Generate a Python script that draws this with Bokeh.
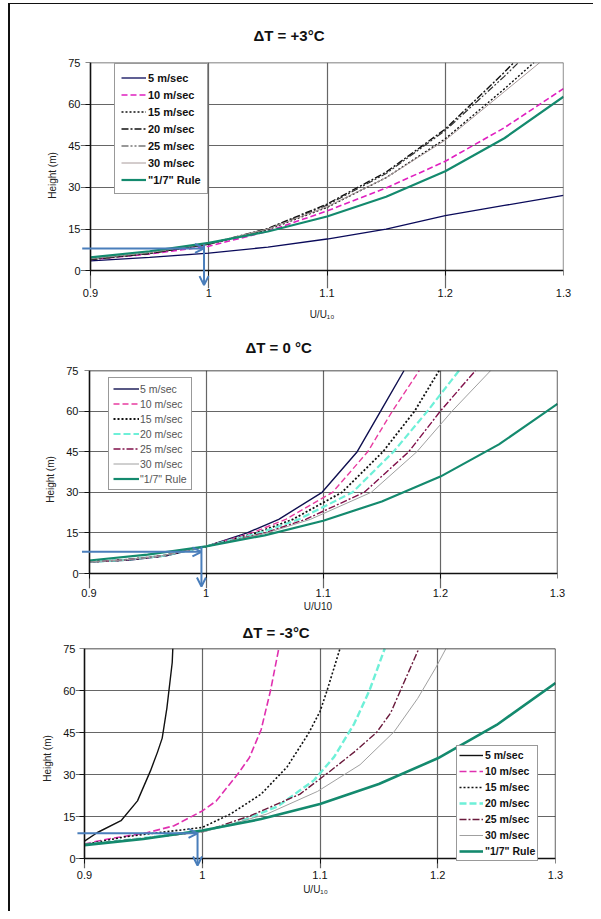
from bokeh.plotting import figure
from bokeh.models import (Range1d, FixedTicker, CustomJSTickFormatter, Legend,
                          LegendItem, Arrow, OpenHead, LinearAxis)
from bokeh.layouts import column
from bokeh.embed import file_html
from bokeh.resources import INLINE

FONT = "Liberation Sans"

# ---------------- data ----------------
X_TICKS = [0.9, 1.0, 1.1, 1.2, 1.3]
Y_TICKS = [0, 15, 30, 45, 60, 75]
LABELS = ["5 m/sec", "10 m/sec", "15 m/sec", "20 m/sec", "25 m/sec", "30 m/sec", '"1/7" Rule']

# "1/7" rule (same in all panels)
u_rule = [0.90, 0.95, 1.00, 1.05, 1.10, 1.15, 1.20, 1.25, 1.30]
h_rule = [4.8, 7.0, 10.0, 14.1, 19.5, 26.6, 35.8, 47.7, 62.7]

# Panel 1: dT = +3 C
u1_5 = [0.90, 0.95, 1.00, 1.05, 1.10, 1.15, 1.20, 1.25, 1.30]
h1_5 = [3.5, 4.8, 6.3, 8.5, 11.4, 15.0, 19.8, 23.5, 27.1]
u1_10 = [0.90, 0.95, 1.00, 1.05, 1.10, 1.15, 1.20, 1.25, 1.30]
h1_10 = [4.0, 6.0, 8.8, 14.2, 21.5, 29.8, 39.4, 51.5, 65.6]
u1_15 = [0.90, 0.95, 1.00, 1.05, 1.10, 1.15, 1.20, 1.25, 1.275]
h1_15 = [4.2, 6.3, 9.6, 14.8, 22.8, 33.5, 47.5, 65.5, 75.0]
u1_20 = [0.90, 0.95, 1.00, 1.05, 1.10, 1.15, 1.20, 1.25, 1.258]
h1_20 = [4.0, 6.2, 9.6, 15.2, 24.0, 35.5, 51.0, 71.5, 75.0]
u1_25 = [0.90, 0.95, 1.00, 1.05, 1.10, 1.15, 1.20, 1.25, 1.262]
h1_25 = [4.0, 6.2, 9.5, 15.0, 23.6, 35.0, 50.5, 70.0, 75.0]
u1_30 = [0.90, 0.95, 1.00, 1.05, 1.10, 1.15, 1.20, 1.25, 1.280]
h1_30 = [4.3, 6.5, 9.8, 15.0, 23.0, 33.5, 47.0, 64.5, 75.0]

# Panel 2: dT = 0 C
h2 = [4.3, 5.0, 6.5, 10.0, 15.0, 20.0, 30.0, 45.0, 60.0, 75.0]
u2_5 = [0.905, 0.935, 0.966, 1.000, 1.035, 1.062, 1.099, 1.129, 1.149, 1.169]
u2_10 = [0.900, 0.930, 0.964, 1.000, 1.039, 1.068, 1.108, 1.138, 1.159, 1.182]
u2_15 = [0.900, 0.930, 0.963, 1.000, 1.043, 1.074, 1.116, 1.151, 1.178, 1.199]
u2_20 = [0.900, 0.930, 0.963, 1.000, 1.046, 1.079, 1.125, 1.160, 1.189, 1.216]
u2_25 = [0.900, 0.930, 0.962, 1.000, 1.050, 1.085, 1.135, 1.173, 1.200, 1.230]
u2_30 = [0.900, 0.930, 0.962, 1.000, 1.052, 1.089, 1.141, 1.180, 1.210, 1.243]

# Panel 3: dT = -3 C
u3_5 = [0.900, 0.911, 0.931, 0.945, 0.956, 0.962, 0.966, 0.970, 0.9745, 0.975]
h3_5 = [6.2, 9.3, 13.5, 20.6, 31.3, 38.0, 43.0, 53.8, 70.0, 75.0]
u3_10 = [0.900, 0.920, 0.953, 0.976, 1.000, 1.012, 1.030, 1.040, 1.050, 1.058, 1.065]
h3_10 = [5.2, 7.0, 9.2, 11.7, 17.0, 20.6, 30.1, 36.0, 46.0, 60.0, 75.0]
u3_15 = [0.900, 0.935, 0.970, 1.000, 1.024, 1.050, 1.072, 1.090, 1.100, 1.106, 1.117]
h3_15 = [5.0, 7.8, 9.6, 11.1, 15.9, 23.0, 32.7, 44.5, 52.5, 60.0, 75.0]
u3_20 = [0.900, 0.950, 1.001, 1.027, 1.064, 1.095, 1.112, 1.129, 1.142, 1.155]
h3_20 = [5.0, 7.3, 10.0, 12.3, 18.6, 28.0, 36.3, 48.1, 60.0, 75.0]
u3_25 = [0.900, 0.950, 1.001, 1.041, 1.083, 1.108, 1.129, 1.148, 1.160, 1.168, 1.184]
h3_25 = [5.0, 7.2, 9.6, 15.3, 23.0, 31.0, 38.0, 45.0, 52.0, 59.7, 75.0]
u3_30 = [0.900, 0.950, 1.001, 1.055, 1.098, 1.134, 1.163, 1.183, 1.198, 1.207]
h3_30 = [5.0, 7.2, 9.5, 15.9, 24.0, 33.5, 45.3, 57.2, 67.9, 75.0]

GREEN = "#148a6e"
BLUE = "#4a7ebb"

CONTENT_X = 10   # left edge of the figures on the page (margin + border)
PAGE_RIGHT = 593
TICK_FMT = "return (Math.round(tick*10)/10).toString();"


def style_text_axis(ax):
    ax.axis_line_color = None
    ax.major_tick_line_color = None
    ax.minor_tick_line_color = None
    ax.major_tick_out = 0
    ax.major_tick_in = 0
    ax.minor_tick_out = 0
    ax.minor_tick_in = 0
    ax.major_label_text_font = FONT
    ax.major_label_text_font_size = "11px"
    ax.major_label_text_color = "#111111"
    ax.axis_label_text_font = FONT
    ax.axis_label_text_font_size = "10px"
    ax.axis_label_text_font_style = "normal"
    ax.axis_label_text_color = "#222222"


def line_axis(ticks, loc, bounds, tick_len=5, color="#111111", width=1.5):
    return LinearAxis(fixed_location=loc, ticker=FixedTicker(ticks=ticks), bounds=bounds,
                      axis_line_color=color, axis_line_width=width,
                      major_tick_out=tick_len, major_tick_in=0, major_tick_line_color=color,
                      minor_tick_out=0, minor_tick_in=0, major_label_text_alpha=0.0,
                      major_label_text_font_size="1px")


def make_panel(title, xlabel, series, geom, axis_cfg, leg, edge_color):
    # geom: page pixel positions of u=0.9, u=1.3, h=0, h=75, frame-left, frame-bottom,
    #       figure top and bottom, title left, title standoff
    (x09, x13, y0, y75, fl, fb, ftop, fbot, t_left, t_stand) = geom
    kx = (x13 - x09) / 0.4
    ky = (y0 - y75) / 75.0
    x_lo = 0.9 - (x09 - fl) / kx
    y_lo = -(fb - y0) / ky
    (xlab_stand, xaxlab_stand, ylab_stand, yaxlab_stand) = axis_cfg
    p = figure(width=PAGE_RIGHT - CONTENT_X, height=fbot - ftop,
               output_backend="svg", toolbar_location=None,
               x_range=Range1d(x_lo, 1.3), y_range=Range1d(y_lo, 75),
               min_border_left=fl - CONTENT_X, min_border_right=PAGE_RIGHT - x13,
               min_border_top=y75 - ftop, min_border_bottom=fbot - fb)
    p.frame_align = False
    p.title.text = title
    p.title.text_font = FONT
    p.title.text_font_size = "15px"
    p.title.text_font_style = "bold"
    p.title.text_color = "#111111"
    p.title.align = "left"
    p.title.offset = t_left - fl
    p.title.standoff = t_stand
    p.outline_line_color = None
    p.background_fill_color = "white"
    p.border_fill_color = "white"

    # label-only axes on the frame edges
    p.xaxis.ticker = FixedTicker(ticks=X_TICKS)
    p.yaxis.ticker = FixedTicker(ticks=Y_TICKS)
    p.xaxis.formatter = CustomJSTickFormatter(code=TICK_FMT)
    for ax in (p.xaxis[0], p.yaxis[0]):
        style_text_axis(ax)
    p.xaxis.axis_label = xlabel
    p.yaxis.axis_label = "Height (m)"
    p.xaxis.major_label_standoff = xlab_stand
    p.xaxis.axis_label_standoff = xaxlab_stand
    p.yaxis.major_label_standoff = ylab_stand
    p.yaxis.axis_label_standoff = yaxlab_stand

    p.xgrid.grid_line_color = "#666666"
    p.ygrid.grid_line_color = "#666666"
    p.xgrid.grid_line_width = 1.2
    p.ygrid.grid_line_width = 1.2
    p.xgrid.bounds = (0, 75)
    p.ygrid.bounds = (0.9, 1.3)

    # plot-area edges at h=75 and u=1.3, axis lines with ticks at h=0 and u=0.9
    p.add_layout(line_axis([], 75, (0.9, 1.3), 0, edge_color, 1.3), "above")
    p.add_layout(line_axis([], 1.3, (0, 75), 0, edge_color, 1.3), "right")
    p.add_layout(line_axis(X_TICKS, 0, (0.9, 1.3)), "below")
    p.add_layout(line_axis(Y_TICKS, 0.9, (0, 75)), "left")

    items = []
    for (lab, xs, ys, color, lw, dash) in series:
        r = p.line(xs, ys, line_color=color, line_width=lw, line_dash=dash)
        items.append(LegendItem(label=lab, renderers=[r]))

    (lx, lb, fsize, fstyle, gw, gh, sp, pad, stand, tcolor) = leg
    legend = Legend(items=items, location=(lx - fl, fb - lb), label_text_font=FONT,
                    label_text_font_size=fsize, label_text_font_style=fstyle,
                    label_text_color=tcolor,
                    glyph_width=gw, glyph_height=gh, label_height=gh,
                    spacing=sp, padding=pad, margin=0, label_standoff=stand,
                    border_line_color="#333333", border_line_width=1,
                    background_fill_color="white", background_fill_alpha=1.0)
    p.add_layout(legend)
    return p


def add_arrows(p, y_h, x0, y_top, y_bot, x_v):
    p.add_layout(Arrow(end=OpenHead(size=9, line_color=BLUE, line_width=2),
                       x_start=x0, y_start=y_h, x_end=0.996, y_end=y_h,
                       line_color=BLUE, line_width=2))
    p.add_layout(Arrow(end=OpenHead(size=9, line_color=BLUE, line_width=2),
                       x_start=x_v, y_start=y_top, x_end=x_v, y_end=y_bot,
                       line_color=BLUE, line_width=2))


s1 = [
    (LABELS[0], u1_5, h1_5, "#0a0a5a", 1.3, "solid"),
    (LABELS[1], u1_10, h1_10, "#e020c0", 1.6, "6 3"),
    (LABELS[2], u1_15, h1_15, "#111111", 1.4, "2 2"),
    (LABELS[3], u1_20, h1_20, "#111111", 1.4, "7 2 2 2"),
    (LABELS[4], u1_25, h1_25, "#333333", 1.2, "7 2 2 2 2 2"),
    (LABELS[5], u1_30, h1_30, "#a89a9a", 1.0, "solid"),
    (LABELS[6], u_rule, h_rule, GREEN, 2.2, "solid"),
]
s2 = [
    (LABELS[0], u2_5, h2, "#101050", 1.4, "solid"),
    (LABELS[1], u2_10, h2, "#e83ca0", 1.4, "6 3"),
    (LABELS[2], u2_15, h2, "#111111", 1.8, "2 2"),
    (LABELS[3], u2_20, h2, "#6ef0d8", 2.2, "7 3"),
    (LABELS[4], u2_25, h2, "#80104a", 1.4, "7 2 2 2"),
    (LABELS[5], u2_30, h2, "#a0a0a0", 1.0, "solid"),
    (LABELS[6], u_rule, h_rule, GREEN, 2.2, "solid"),
]
s3 = [
    (LABELS[0], u3_5, h3_5, "#111111", 1.4, "solid"),
    (LABELS[1], u3_10, h3_10, "#e030b0", 1.6, "7 3"),
    (LABELS[2], u3_15, h3_15, "#111111", 1.6, "2 2"),
    (LABELS[3], u3_20, h3_20, "#6ef0d8", 2.4, "7 3"),
    (LABELS[4], u3_25, h3_25, "#6a1a3c", 1.4, "7 2 2 2"),
    (LABELS[5], u3_30, h3_30, "#a0a0a0", 1.0, "solid"),
    (LABELS[6], u_rule, h_rule, GREEN, 2.6, "solid"),
]

p1 = make_panel("\u0394T = +3\u00b0C", "U/U\u2081\u2080", s1,
                (90, 563, 272, 62, 80, 290, 4, 322, 253, 38),
                (0, 9, 0, 7),
                (114, 196, "11px", "bold", 25, 15, 2, 6, 2, "#111111"), "#555555")
add_arrows(p1, 8.0, 0.893, 9.5, -5.2, 0.996)

p2 = make_panel("\u0394T = 0 \u00b0C", "U/U10", s2,
                (88.5, 557, 573, 370, 78, 588, 322, 614, 245, 29),
                (0, 1, 0, 7),
                (108, 490, "10.5px", "normal", 26, 13, 2, 4, 1, "#555555"), "#111111")
add_arrows(p2, 8.0, 0.894, 10.0, -4.8, 0.996)

p3 = make_panel("\u0394T = -3\u00b0C", "U/U\u2081\u2080", s3,
                (84, 555, 858, 647, 75, 868, 614, 911, 242, 15),
                (2, 2, 0, 7),
                (456, 861, "10.5px", "bold", 24, 14, 2, 2, 2, "#111111"), "#111111")
add_arrows(p3, 9.0, 0.894, 9.5, -2.5, 0.996)

layout = column(p1, p2, p3, spacing=0,
                styles={"margin-left": "8px", "margin-top": "3px",
                        "border-left": "2px solid #111111",
                        "border-top": "1px solid #111111"})

open("out.html", "w").write(file_html(layout, INLINE))
